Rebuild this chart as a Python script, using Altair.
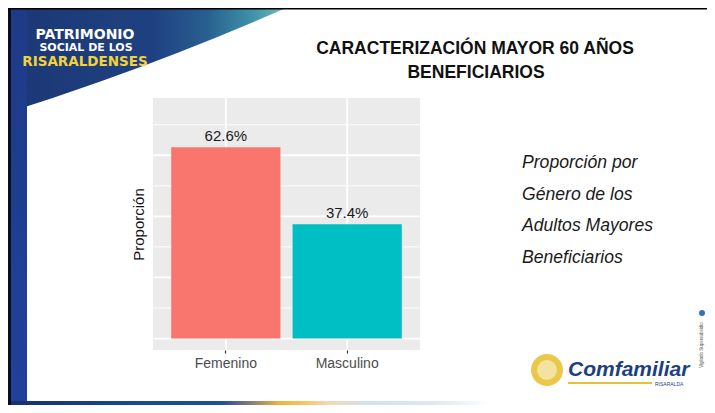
import altair as alt
import pandas as pd

# ---------------- data ----------------
categorias = ["Femenino", "Masculino"]
proporciones = [0.626, 0.374]
etiquetas = ["62.6%", "37.4%"]
colores = ["#F8766D", "#00BFC4"]
cortes_mayores = [0.0, 0.2, 0.4, 0.6]
cortes_menores = [0.1, 0.3, 0.5, 0.7]

titulo = ["CARACTERIZACIÓN MAYOR 60 AÑOS", "BENEFICIARIOS"]
texto_lateral = ["Proporción por", "Género de los", "Adultos Mayores", "Beneficiarios"]
logo_lineas = ["PATRIMONIO", "SOCIAL DE LOS", "RISARALDENSES"]

# ---------------- layout helpers (page pixel -> plot-area pixel) ----------------
W, H = 267, 252
OX, OY = 153, 98


def px(X):
    return X - OX


def py(Y):
    return Y - OY


uno = pd.DataFrame({"k": [0]})
FONT = "Liberation Sans"


def rect(X1, Y1, X2, Y2, fill):
    return alt.Chart(uno).mark_rect(fill=fill).encode(
        x=alt.value(px(X1)), x2=alt.value(px(X2)),
        y=alt.value(py(Y1)), y2=alt.value(py(Y2)))


def txt(s, X, Y, **kw):
    return alt.Chart(uno).mark_text(text=s, **kw).encode(
        x=alt.value(px(X)), y=alt.value(py(Y)))


def grad(stops, vertical=False):
    return alt.Gradient(
        gradient="linear",
        stops=[alt.GradientStop(color=c, offset=o) for o, c in stops],
        x1=0, x2=0 if vertical else 1, y1=0, y2=1 if vertical else 0)


# ---------------- slide decorations ----------------
deco = []
deco.append(rect(8, 8, 300, 120, grad([
    (0.0, "#1C3775"), (0.5, "#1F4181"), (0.68, "#285F90"),
    (0.84, "#3F93A8"), (1.0, "#8AD2CA")])))
# white wave cutting the header shape
deco.append(alt.Chart(uno).mark_arc(
    radius=2940, radius2=2826, theta=2.6, theta2=3.0, fill="white").encode(
    x=alt.value(px(-847)), y=alt.value(py(-2581))))
deco.append(rect(11, 8, 27, 405, grad([(0, "#1D3B86"), (1, "#22409A")], vertical=True)))
deco.append(rect(8, 8, 11, 405, "#0A0F1E"))
deco.append(rect(8, 8, 715, 9.5, "#000000"))
deco.append(rect(11, 401, 715, 413, grad([
    (0.0, "#16306C"), (0.18, "#1A4896"), (0.30, "#1E4E9C"), (0.35, "#9C8A6A"),
    (0.38, "#ECB440"), (0.41, "#F1C456"), (0.45, "#F5D8B0"), (0.51, "#D2E2F2"),
    (0.60, "#DCE8F4"), (0.68, "#FFFFFF"), (1.0, "#FFFFFF")])))

# logo text
deco.append(txt(logo_lineas[0], 85, 35, font="DejaVu Sans", fontWeight="bold",
                fontSize=14, color="white", align="center", baseline="middle"))
deco.append(txt(logo_lineas[1], 86, 48, font="DejaVu Sans", fontWeight="bold",
                fontSize=11, color="white", align="center", baseline="middle"))
deco.append(txt(logo_lineas[2], 85, 62, font="DejaVu Sans", fontWeight="bold",
                fontSize=13.5, color="#F2D33A", align="center", baseline="middle"))

# title
deco.append(txt(titulo[0], 475, 49, font=FONT, fontWeight="bold", fontSize=17.5,
                color="#111111", align="center", baseline="middle"))
deco.append(txt(titulo[1], 476, 73, font=FONT, fontWeight="bold", fontSize=17.5,
                color="#111111", align="center", baseline="middle"))

# side text
for linea, yy in zip(texto_lateral, [163, 195, 226, 258]):
    deco.append(txt(linea, 522, yy, font=FONT, fontStyle="italic", fontSize=17.6,
                    color="#1A1A1A", align="left", baseline="middle"))

# Comfamiliar logo
deco.append(alt.Chart(uno).mark_arc(radius=16, theta=0, theta2=6.2832,
                                    fill="#E9C84A").encode(
    x=alt.value(px(547)), y=alt.value(py(370))))
deco.append(alt.Chart(uno).mark_arc(radius=10, theta=0, theta2=6.2832,
                                    fill="#F4E3A0").encode(
    x=alt.value(px(547)), y=alt.value(py(370))))
deco.append(txt("Comfamiliar", 568, 370, font=FONT, fontWeight="bold", fontStyle="italic",
                fontSize=21, color="#1D3F7F", align="left", baseline="middle"))
deco.append(rect(568, 382, 652, 384, "#E3C23C"))
deco.append(txt("RISARALDA", 655, 383.5, font=FONT, fontSize=5, color="#1D3F7F",
                align="left", baseline="middle"))
deco.append(txt("Vigilado Supersubsidio", 702, 345, font=FONT, fontSize=4.5, color="#555555",
                angle=270, align="center", baseline="middle"))
deco.append(alt.Chart(uno).mark_arc(radius=3, theta=0, theta2=6.2832,
                                    fill="#3A6FB0").encode(
    x=alt.value(px(702)), y=alt.value(py(313))))

# ---------------- ggplot-style bar chart ----------------
X = alt.X("categoria:N", sort=categorias,
          scale=alt.Scale(domain=categorias, paddingInner=0.1, paddingOuter=0.15),
          axis=alt.Axis(title=None, labelFont=FONT, labelFontSize=14, labelColor="#4D4D4D",
                        labelAngle=0, tickColor="#333333", tickSize=3, tickWidth=1.2,
                        labelPadding=3, domain=False, grid=False, bandPosition=0.5,
                        zindex=1))
Y = alt.Y("proporcion:Q",
          scale=alt.Scale(domain=[-0.0375, 0.7875], nice=False, zero=False),
          axis=alt.Axis(title="Proporción", titleFont=FONT, titleFontSize=15,
                        titleFontWeight="normal", titleColor="#111111", titlePadding=7,
                        labels=False, ticks=False, domain=False, grid=False, zindex=1))

datos = pd.DataFrame({"categoria": categorias, "proporcion": proporciones,
                      "etiqueta": etiquetas})

panel = alt.Chart(uno).mark_rect(fill="#EBEBEB").encode(
    x=alt.value(0), x2=alt.value(W), y=alt.value(0), y2=alt.value(H))
grid_menor = alt.Chart(pd.DataFrame({"proporcion": cortes_menores})).mark_rule(
    color="white", strokeWidth=0.9).encode(y=Y, x=alt.value(0), x2=alt.value(W))
grid_mayor = alt.Chart(pd.DataFrame({"proporcion": cortes_mayores})).mark_rule(
    color="white", strokeWidth=1.8).encode(y=Y, x=alt.value(0), x2=alt.value(W))
grid_v = alt.Chart(pd.DataFrame({"categoria": categorias})).mark_rule(
    color="white", strokeWidth=1.8).encode(x=X, y=alt.value(0), y2=alt.value(H))
barras = alt.Chart(datos).mark_bar().encode(
    x=X, y=Y, y2=alt.datum(0),
    color=alt.Color("categoria:N", scale=alt.Scale(domain=categorias, range=colores),
                    legend=None))
rotulos = alt.Chart(datos).mark_text(
    baseline="bottom", dy=-3, fontSize=15, font=FONT, color="#1A1A1A").encode(
    x=X, y=Y, text="etiqueta:N")

chart = alt.layer(*deco, panel, grid_menor, grid_mayor, grid_v, barras, rotulos).properties(
    width=W, height=H,
    autosize=alt.AutoSizeParams(type="none"),
    padding={"left": OX - 8, "top": OY - 8, "right": 699 - (OX - 8) - W,
             "bottom": 397 - (OY - 8) - H},
    background="white",
).configure_view(stroke=None)

chart.save("out.html", embed_options={"renderer": "svg", "actions": False})
